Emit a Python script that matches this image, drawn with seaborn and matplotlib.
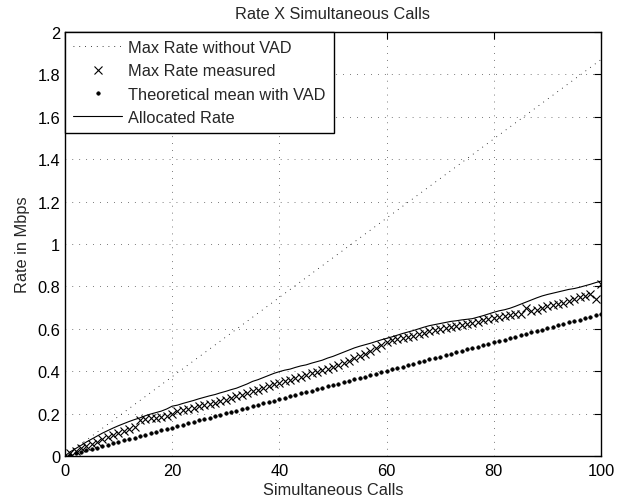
import matplotlib
matplotlib.use("Agg")
import matplotlib.pyplot as plt
import seaborn as sns

# Data
calls = list(range(0, 101))

max_rate_calls = [0, 100]
max_rate_without_vad = [0.0, 1.87]

measured_calls = list(range(1, 101))
max_rate_measured = [
    0.012, 0.025, 0.036, 0.046, 0.057, 0.068, 0.078, 0.089, 0.099, 0.108,
    0.118, 0.127, 0.138, 0.172, 0.176, 0.178, 0.180, 0.182, 0.190, 0.200,
    0.212, 0.218, 0.222, 0.228, 0.234, 0.240, 0.246, 0.252, 0.258, 0.266,
    0.272, 0.284, 0.290, 0.298, 0.305, 0.312, 0.322, 0.330, 0.338, 0.345,
    0.352, 0.360, 0.366, 0.372, 0.380, 0.390, 0.398, 0.405, 0.412, 0.420,
    0.430, 0.440, 0.450, 0.462, 0.472, 0.480, 0.494, 0.510, 0.525, 0.538,
    0.548, 0.552, 0.558, 0.562, 0.566, 0.575, 0.582, 0.588, 0.594, 0.598,
    0.604, 0.608, 0.612, 0.618, 0.624, 0.628, 0.634, 0.640, 0.646, 0.652,
    0.658, 0.662, 0.665, 0.668, 0.672, 0.698, 0.684, 0.690, 0.700, 0.706,
    0.712, 0.716, 0.724, 0.732, 0.740, 0.748, 0.756, 0.764, 0.742, 0.810,
]

theoretical_mean_vad = [
    0.000, 0.007, 0.013, 0.020, 0.027, 0.034, 0.040, 0.047, 0.054, 0.060,
    0.067, 0.074, 0.080, 0.087, 0.094, 0.101, 0.107, 0.114, 0.121, 0.127,
    0.134, 0.141, 0.147, 0.154, 0.161, 0.168, 0.174, 0.181, 0.188, 0.194,
    0.201, 0.208, 0.214, 0.221, 0.228, 0.235, 0.241, 0.248, 0.255, 0.261,
    0.268, 0.275, 0.281, 0.288, 0.295, 0.302, 0.308, 0.315, 0.322, 0.328,
    0.335, 0.342, 0.348, 0.355, 0.362, 0.369, 0.375, 0.382, 0.389, 0.395,
    0.402, 0.409, 0.415, 0.422, 0.429, 0.436, 0.442, 0.449, 0.456, 0.462,
    0.469, 0.476, 0.482, 0.489, 0.496, 0.503, 0.509, 0.516, 0.523, 0.529,
    0.536, 0.543, 0.549, 0.556, 0.563, 0.570, 0.576, 0.583, 0.590, 0.596,
    0.603, 0.610, 0.616, 0.623, 0.630, 0.637, 0.643, 0.650, 0.657, 0.663,
    0.670,
]

allocated_rate = [
    0.000, 0.020, 0.035, 0.050, 0.066, 0.080, 0.094, 0.108, 0.120, 0.132,
    0.143, 0.153, 0.163, 0.172, 0.180, 0.190, 0.198, 0.205, 0.212, 0.222,
    0.235, 0.240, 0.248, 0.255, 0.262, 0.270, 0.277, 0.284, 0.290, 0.298,
    0.305, 0.313, 0.320, 0.330, 0.340, 0.352, 0.360, 0.370, 0.380, 0.390,
    0.398, 0.405, 0.410, 0.418, 0.425, 0.430, 0.438, 0.445, 0.452, 0.462,
    0.470, 0.480, 0.490, 0.500, 0.510, 0.518, 0.525, 0.532, 0.540, 0.548,
    0.555, 0.562, 0.570, 0.578, 0.585, 0.592, 0.600, 0.608, 0.615, 0.620,
    0.625, 0.630, 0.635, 0.638, 0.642, 0.645, 0.648, 0.655, 0.662, 0.670,
    0.678, 0.685, 0.690, 0.697, 0.706, 0.716, 0.726, 0.736, 0.746, 0.755,
    0.762, 0.768, 0.774, 0.780, 0.786, 0.790, 0.796, 0.803, 0.810, 0.818,
    0.825,
]

FS = 11.8

sns.set_style("white")
plt.rcParams["font.family"] = ["Liberation Sans", "DejaVu Sans"]
plt.rcParams["font.size"] = FS

fig = plt.figure(figsize=(6.36, 5.02), dpi=100)
ax = fig.add_axes([0.102, 0.0896, 0.843, 0.8446])

sns.lineplot(x=max_rate_calls, y=max_rate_without_vad, ax=ax, color="black",
             linewidth=0.6, linestyle=(0, (1, 6)), label="Max Rate without VAD")
sns.lineplot(x=measured_calls, y=max_rate_measured, ax=ax, color="black",
             linestyle="", marker="x", markersize=6, markeredgewidth=0.8,
             markeredgecolor="black", label="Max Rate measured")
sns.lineplot(x=calls, y=theoretical_mean_vad, ax=ax, color="black",
             linestyle="", marker=".", markersize=5, markeredgecolor="black",
             markeredgewidth=0.5, label="Theoretical mean with VAD")
sns.lineplot(x=calls, y=allocated_rate, ax=ax, color="black",
             linewidth=0.8, label="Allocated Rate")

ax.set_xlim(0, 100)
ax.set_ylim(0, 2)
ax.set_xticks([0, 20, 40, 60, 80, 100])
ax.set_yticks([0, 0.2, 0.4, 0.6, 0.8, 1, 1.2, 1.4, 1.6, 1.8, 2])
ax.set_yticklabels(["0", "0.2", "0.4", "0.6", "0.8", "1", "1.2", "1.4", "1.6", "1.8", "2"])
ax.grid(True, color="black", linestyle=(0, (1, 9)), linewidth=0.5)
ax.tick_params(direction="in", length=5, width=0.8, top=True, right=True,
               labelsize=FS, colors="black")
ax.tick_params(axis="x", pad=5)
for s in ax.spines.values():
    s.set_visible(True)
    s.set_color("black")
    s.set_linewidth(1.0)

ax.set_title("Rate X Simultaneous Calls", fontsize=FS, pad=10)
ax.set_xlabel("Simultaneous Calls", fontsize=FS, labelpad=3)
ax.set_ylabel("Rate in Mbps", fontsize=FS, labelpad=5)

leg = ax.legend(loc="upper left", borderaxespad=0, fancybox=False,
                edgecolor="black", framealpha=1, numpoints=1,
                handlelength=3.0, handletextpad=0.35, labelspacing=0.5,
                fontsize=FS, borderpad=0.5)
leg.get_frame().set_linewidth(1.0)

fig.savefig("out.png", dpi=100)
